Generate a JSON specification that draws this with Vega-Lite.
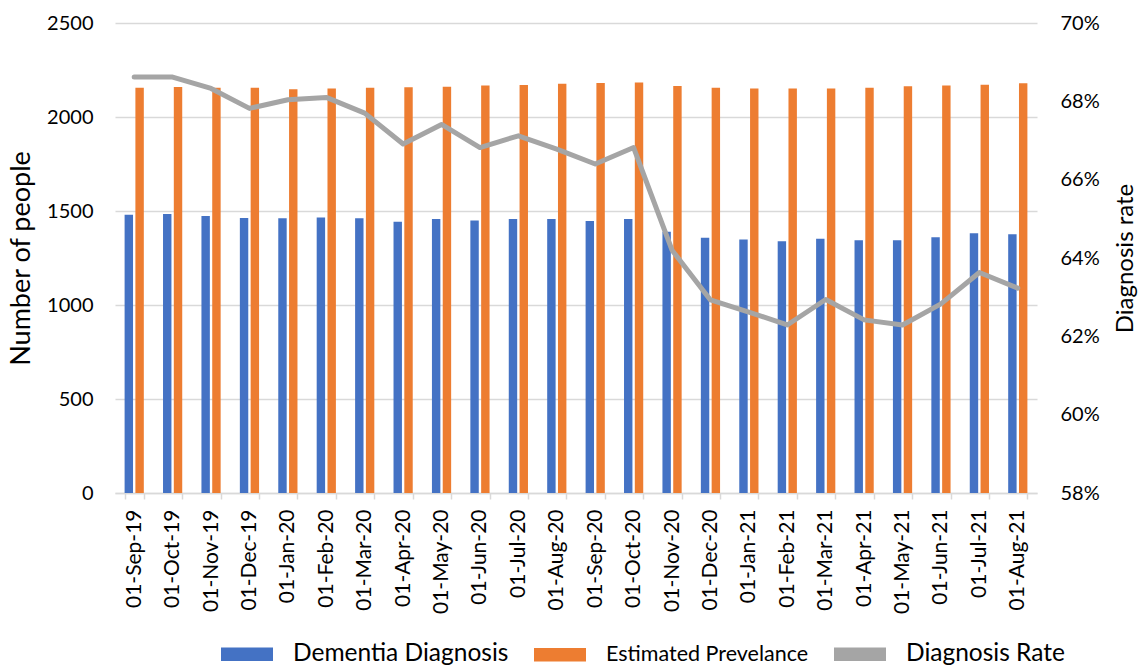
{
  "$schema": "https://vega.github.io/schema/vega-lite/v6.json",
  "width": 922,
  "height": 470,
  "autosize": "none",
  "padding": {"left": 115, "top": 23, "right": 102, "bottom": 173},
  "background": "white",
  "config": {
    "font": "Lato",
    "view": {"stroke": null},
    "axis": {"labelColor": "#000000", "titleColor": "#000000", "titleFontWeight": "normal"}
  },
  "datasets": {
    "bars": [
      {"month": "01-Sep-19", "series": "Dementia Diagnosis", "people": 1480},
      {"month": "01-Sep-19", "series": "Estimated Prevelance", "people": 2156},
      {"month": "01-Oct-19", "series": "Dementia Diagnosis", "people": 1484},
      {"month": "01-Oct-19", "series": "Estimated Prevelance", "people": 2160},
      {"month": "01-Nov-19", "series": "Dementia Diagnosis", "people": 1473},
      {"month": "01-Nov-19", "series": "Estimated Prevelance", "people": 2156},
      {"month": "01-Dec-19", "series": "Dementia Diagnosis", "people": 1463},
      {"month": "01-Dec-19", "series": "Estimated Prevelance", "people": 2156},
      {"month": "01-Jan-20", "series": "Dementia Diagnosis", "people": 1461},
      {"month": "01-Jan-20", "series": "Estimated Prevelance", "people": 2147},
      {"month": "01-Feb-20", "series": "Dementia Diagnosis", "people": 1465},
      {"month": "01-Feb-20", "series": "Estimated Prevelance", "people": 2151},
      {"month": "01-Mar-20", "series": "Dementia Diagnosis", "people": 1461},
      {"month": "01-Mar-20", "series": "Estimated Prevelance", "people": 2156},
      {"month": "01-Apr-20", "series": "Dementia Diagnosis", "people": 1443},
      {"month": "01-Apr-20", "series": "Estimated Prevelance", "people": 2158},
      {"month": "01-May-20", "series": "Dementia Diagnosis", "people": 1457},
      {"month": "01-May-20", "series": "Estimated Prevelance", "people": 2161},
      {"month": "01-Jun-20", "series": "Dementia Diagnosis", "people": 1449},
      {"month": "01-Jun-20", "series": "Estimated Prevelance", "people": 2167},
      {"month": "01-Jul-20", "series": "Dementia Diagnosis", "people": 1457},
      {"month": "01-Jul-20", "series": "Estimated Prevelance", "people": 2170},
      {"month": "01-Aug-20", "series": "Dementia Diagnosis", "people": 1457},
      {"month": "01-Aug-20", "series": "Estimated Prevelance", "people": 2177},
      {"month": "01-Sep-20", "series": "Dementia Diagnosis", "people": 1447},
      {"month": "01-Sep-20", "series": "Estimated Prevelance", "people": 2181},
      {"month": "01-Oct-20", "series": "Dementia Diagnosis", "people": 1457},
      {"month": "01-Oct-20", "series": "Estimated Prevelance", "people": 2183},
      {"month": "01-Nov-20", "series": "Dementia Diagnosis", "people": 1390},
      {"month": "01-Nov-20", "series": "Estimated Prevelance", "people": 2165},
      {"month": "01-Dec-20", "series": "Dementia Diagnosis", "people": 1358},
      {"month": "01-Dec-20", "series": "Estimated Prevelance", "people": 2156},
      {"month": "01-Jan-21", "series": "Dementia Diagnosis", "people": 1348},
      {"month": "01-Jan-21", "series": "Estimated Prevelance", "people": 2152},
      {"month": "01-Feb-21", "series": "Dementia Diagnosis", "people": 1339},
      {"month": "01-Feb-21", "series": "Estimated Prevelance", "people": 2151},
      {"month": "01-Mar-21", "series": "Dementia Diagnosis", "people": 1353},
      {"month": "01-Mar-21", "series": "Estimated Prevelance", "people": 2151},
      {"month": "01-Apr-21", "series": "Dementia Diagnosis", "people": 1345},
      {"month": "01-Apr-21", "series": "Estimated Prevelance", "people": 2156},
      {"month": "01-May-21", "series": "Dementia Diagnosis", "people": 1345},
      {"month": "01-May-21", "series": "Estimated Prevelance", "people": 2163},
      {"month": "01-Jun-21", "series": "Dementia Diagnosis", "people": 1360},
      {"month": "01-Jun-21", "series": "Estimated Prevelance", "people": 2167},
      {"month": "01-Jul-21", "series": "Dementia Diagnosis", "people": 1382},
      {"month": "01-Jul-21", "series": "Estimated Prevelance", "people": 2172},
      {"month": "01-Aug-21", "series": "Dementia Diagnosis", "people": 1376},
      {"month": "01-Aug-21", "series": "Estimated Prevelance", "people": 2179}
    ],
    "rate": [
      {"month": "01-Sep-19", "rate": 0.6862},
      {"month": "01-Oct-19", "rate": 0.6862},
      {"month": "01-Nov-19", "rate": 0.6833},
      {"month": "01-Dec-19", "rate": 0.6782},
      {"month": "01-Jan-20", "rate": 0.6804},
      {"month": "01-Feb-20", "rate": 0.6810},
      {"month": "01-Mar-20", "rate": 0.6770},
      {"month": "01-Apr-20", "rate": 0.6691},
      {"month": "01-May-20", "rate": 0.6741},
      {"month": "01-Jun-20", "rate": 0.6682},
      {"month": "01-Jul-20", "rate": 0.6712},
      {"month": "01-Aug-20", "rate": 0.6678},
      {"month": "01-Sep-20", "rate": 0.6640},
      {"month": "01-Oct-20", "rate": 0.6682},
      {"month": "01-Nov-20", "rate": 0.6420},
      {"month": "01-Dec-20", "rate": 0.6293},
      {"month": "01-Jan-21", "rate": 0.6262},
      {"month": "01-Feb-21", "rate": 0.6229},
      {"month": "01-Mar-21", "rate": 0.6294},
      {"month": "01-Apr-21", "rate": 0.6242},
      {"month": "01-May-21", "rate": 0.6229},
      {"month": "01-Jun-21", "rate": 0.6283},
      {"month": "01-Jul-21", "rate": 0.6363},
      {"month": "01-Aug-21", "rate": 0.6323}
    ]
  },
  "layer": [
    {
      "data": {"name": "bars"},
      "mark": {"type": "bar"},
      "encoding": {
        "x": {
          "field": "month", "type": "nominal", "sort": null,
          "scale": {"paddingInner": 0.5, "paddingOuter": 0.25},
          "axis": {
            "title": null, "labelAngle": 270, "labelFontSize": 21, "labelPadding": 10,
            "tickBand": "extent", "tickColor": "#d9d9d9", "tickSize": 6, "tickWidth": 1.5,
            "domainColor": "#d9d9d9", "domainWidth": 1.5, "grid": false
          }
        },
        "xOffset": {"field": "series", "type": "nominal", "sort": null, "scale": {"paddingInner": 0.22, "paddingOuter": 0}},
        "y": {
          "field": "people", "type": "quantitative",
          "scale": {"domain": [0, 2500], "nice": false},
          "axis": {
            "title": "Number of people", "titleFontSize": 27, "titlePadding": 11,
            "labelFontSize": 20, "labelPadding": 22, "domain": false, "ticks": false, "format": "d",
            "grid": true, "gridColor": "#d9d9d9", "gridWidth": 1.3,
            "values": [0, 500, 1000, 1500, 2000, 2500]
          }
        },
        "color": {
          "field": "series", "type": "nominal",
          "scale": {"domain": ["Dementia Diagnosis", "Estimated Prevelance", "Diagnosis Rate"], "range": ["#4472c4", "#ed7d31", "#a5a5a5"]},
          "legend": {
            "orient": "none", "legendX": 106, "legendY": 605, "direction": "horizontal", "title": null,
            "symbolType": "M-1,-0.26H1V0.26H-1Z", "symbolSize": 2704, "symbolStrokeWidth": 0,
            "labelFontSize": 24.5, "labelOffset": 20, "columnPadding": 25, "labelColor": "#000000", "labelLimit": 400,
            "encode": {
              "symbols": {"update": {"fill": {"scale": "color", "field": "value"}, "stroke": {"value": "transparent"}, "opacity": {"value": 1}}},
              "labels": {"update": {"fontSize": {"signal": "datum.label === 'Estimated Prevelance' ? 21.5 : 24.5"}}}
            }
          }
        }
      }
    },
    {
      "data": {"name": "rate"},
      "mark": {"type": "line", "strokeWidth": 5, "strokeCap": "round", "strokeJoin": "round"},
      "encoding": {
        "x": {"field": "month", "type": "nominal", "sort": null},
        "y": {
          "field": "rate", "type": "quantitative",
          "scale": {"domain": [0.58, 0.70], "nice": false, "zero": false},
          "axis": {
            "orient": "right", "title": "Diagnosis rate", "titleAngle": 270, "titleFontSize": 24, "titlePadding": 38,
            "format": ".0%", "values": [0.58, 0.60, 0.62, 0.64, 0.66, 0.68, 0.70],
            "grid": false, "domain": false, "ticks": false, "labelPadding": 23, "labelFontSize": 20
          }
        },
        "color": {"datum": "Diagnosis Rate"}
      }
    }
  ],
  "resolve": {"scale": {"y": "independent"}}
}
